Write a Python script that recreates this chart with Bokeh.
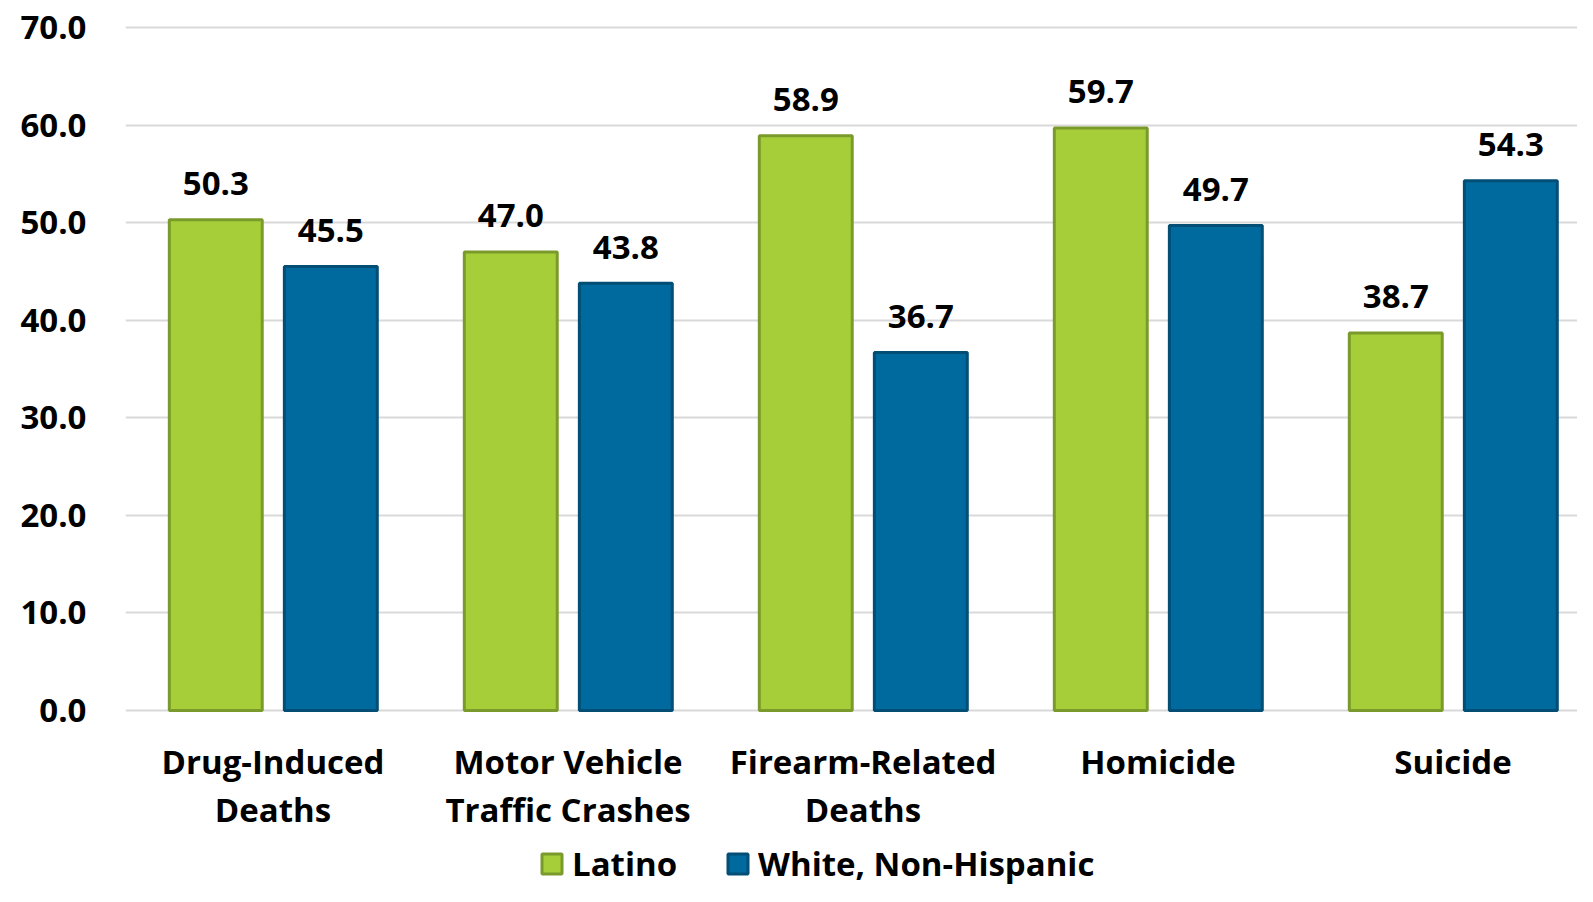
from bokeh.plotting import figure
from bokeh.models import Range1d, Legend, LegendItem, ColumnDataSource, NumeralTickFormatter, FixedTicker
from bokeh.embed import file_html
from bokeh.resources import INLINE
from bokeh.core.properties import value

categories = ["Drug-Induced Deaths", "Motor Vehicle Traffic Crashes", "Firearm-Related Deaths", "Homicide", "Suicide"]
label_line1 = ["Drug-Induced", "Motor Vehicle", "Firearm-Related", "Homicide", "Suicide"]
label_line2 = ["Deaths", "Traffic Crashes", "Deaths", "", ""]
latino = [50.3, 47.0, 58.9, 59.7, 38.7]
white = [45.5, 43.8, 36.7, 49.7, 54.3]
series_names = ["Latino", "White, Non-Hispanic"]
y_ticks = [0, 10, 20, 30, 40, 50, 60, 70]

FONT = "Open Sans"
FS = "33px"
GREEN, GREEN_LINE = "#A6CE39", "#7B9A2C"
BLUE, BLUE_LINE = "#006A9E", "#024E74"

pos = [i + 0.5 for i in range(len(categories))]
OFF_L, OFF_W, BW = -0.194, 0.196, 0.315
src = ColumnDataSource(dict(
    cat=categories, x=pos,
    xl=[x + OFF_L for x in pos], xw=[x + OFF_W for x in pos],
    latino=latino, white=white,
    latino_lbl=[f"{v:.1f}" for v in latino],
    white_lbl=[f"{v:.1f}" for v in white],
    l1=label_line1, l2=label_line2))

W, H = 1577, 886
LEFT, Y70, ZERO_Y, TOP = 125, 27, 710, 20
px_per_unit = (ZERO_Y - Y70) / 70.0
cat_px = 295.0
y_start = -(H - ZERO_Y) / px_per_unit
y_end = 70 + (Y70 - TOP) / px_per_unit

p = figure(x_range=Range1d(0, (W - LEFT) / cat_px), y_range=Range1d(y_start, y_end),
           width=W, height=H, output_backend="svg", toolbar_location=None,
           min_border_left=LEFT, min_border_right=0, min_border_top=TOP, min_border_bottom=0)
p.outline_line_color = None
p.xaxis.visible = False
p.xgrid.grid_line_color = None
p.ygrid.grid_line_color = "#D9D9D9"
p.ygrid.grid_line_width = 2
p.ygrid.ticker = FixedTicker(ticks=y_ticks)

r1 = p.vbar(x="xl", top="latino", width=BW, source=src,
            fill_color=GREEN, line_color=GREEN_LINE, line_width=3)
r2 = p.vbar(x="xw", top="white", width=BW, source=src,
            fill_color=BLUE, line_color=BLUE_LINE, line_width=3)

for xcol, col in [("xl", "latino"), ("xw", "white")]:
    p.text(x=xcol, y=col, text=col + "_lbl", source=src,
           text_align="center", text_baseline="alphabetic", y_offset=-36,
           text_font=value(FONT), text_font_style="bold", text_font_size=FS, text_color="#000000")

# category labels (two lines)
for col, off in [("l1", 51), ("l2", 99)]:
    p.text(x="x", y=0, text=col, source=src, text_align="center", text_baseline="alphabetic",
           y_offset=off, text_font=value(FONT), text_font_style="bold", text_font_size=FS,
           text_color="#000000")

p.yaxis.ticker = FixedTicker(ticks=y_ticks)
p.yaxis.formatter = NumeralTickFormatter(format="0.0")
p.yaxis.axis_line_color = None
p.yaxis.major_tick_line_color = None
p.yaxis.minor_tick_line_color = None
p.yaxis.major_tick_out = 0
p.yaxis.major_tick_in = 0
p.yaxis.major_label_standoff = 39
p.yaxis.major_label_text_font = FONT
p.yaxis.major_label_text_font_style = "bold"
p.yaxis.major_label_text_font_size = FS
p.yaxis.major_label_text_color = "#000000"

legend = Legend(items=[LegendItem(label=series_names[0], renderers=[r1]),
                       LegendItem(label=series_names[1], renderers=[r2])],
                orientation="horizontal", location=(414, 0),
                label_text_font=FONT, label_text_font_style="bold", label_text_font_size=FS,
                label_text_line_height=0.8, label_height=25,
                label_text_color="#000000", glyph_width=25, glyph_height=25,
                label_standoff=8, spacing=48, padding=0, margin=0,
                border_line_color=None, background_fill_alpha=0)
p.add_layout(legend, "center")

open("out.html", "w").write(file_html(p, INLINE))
